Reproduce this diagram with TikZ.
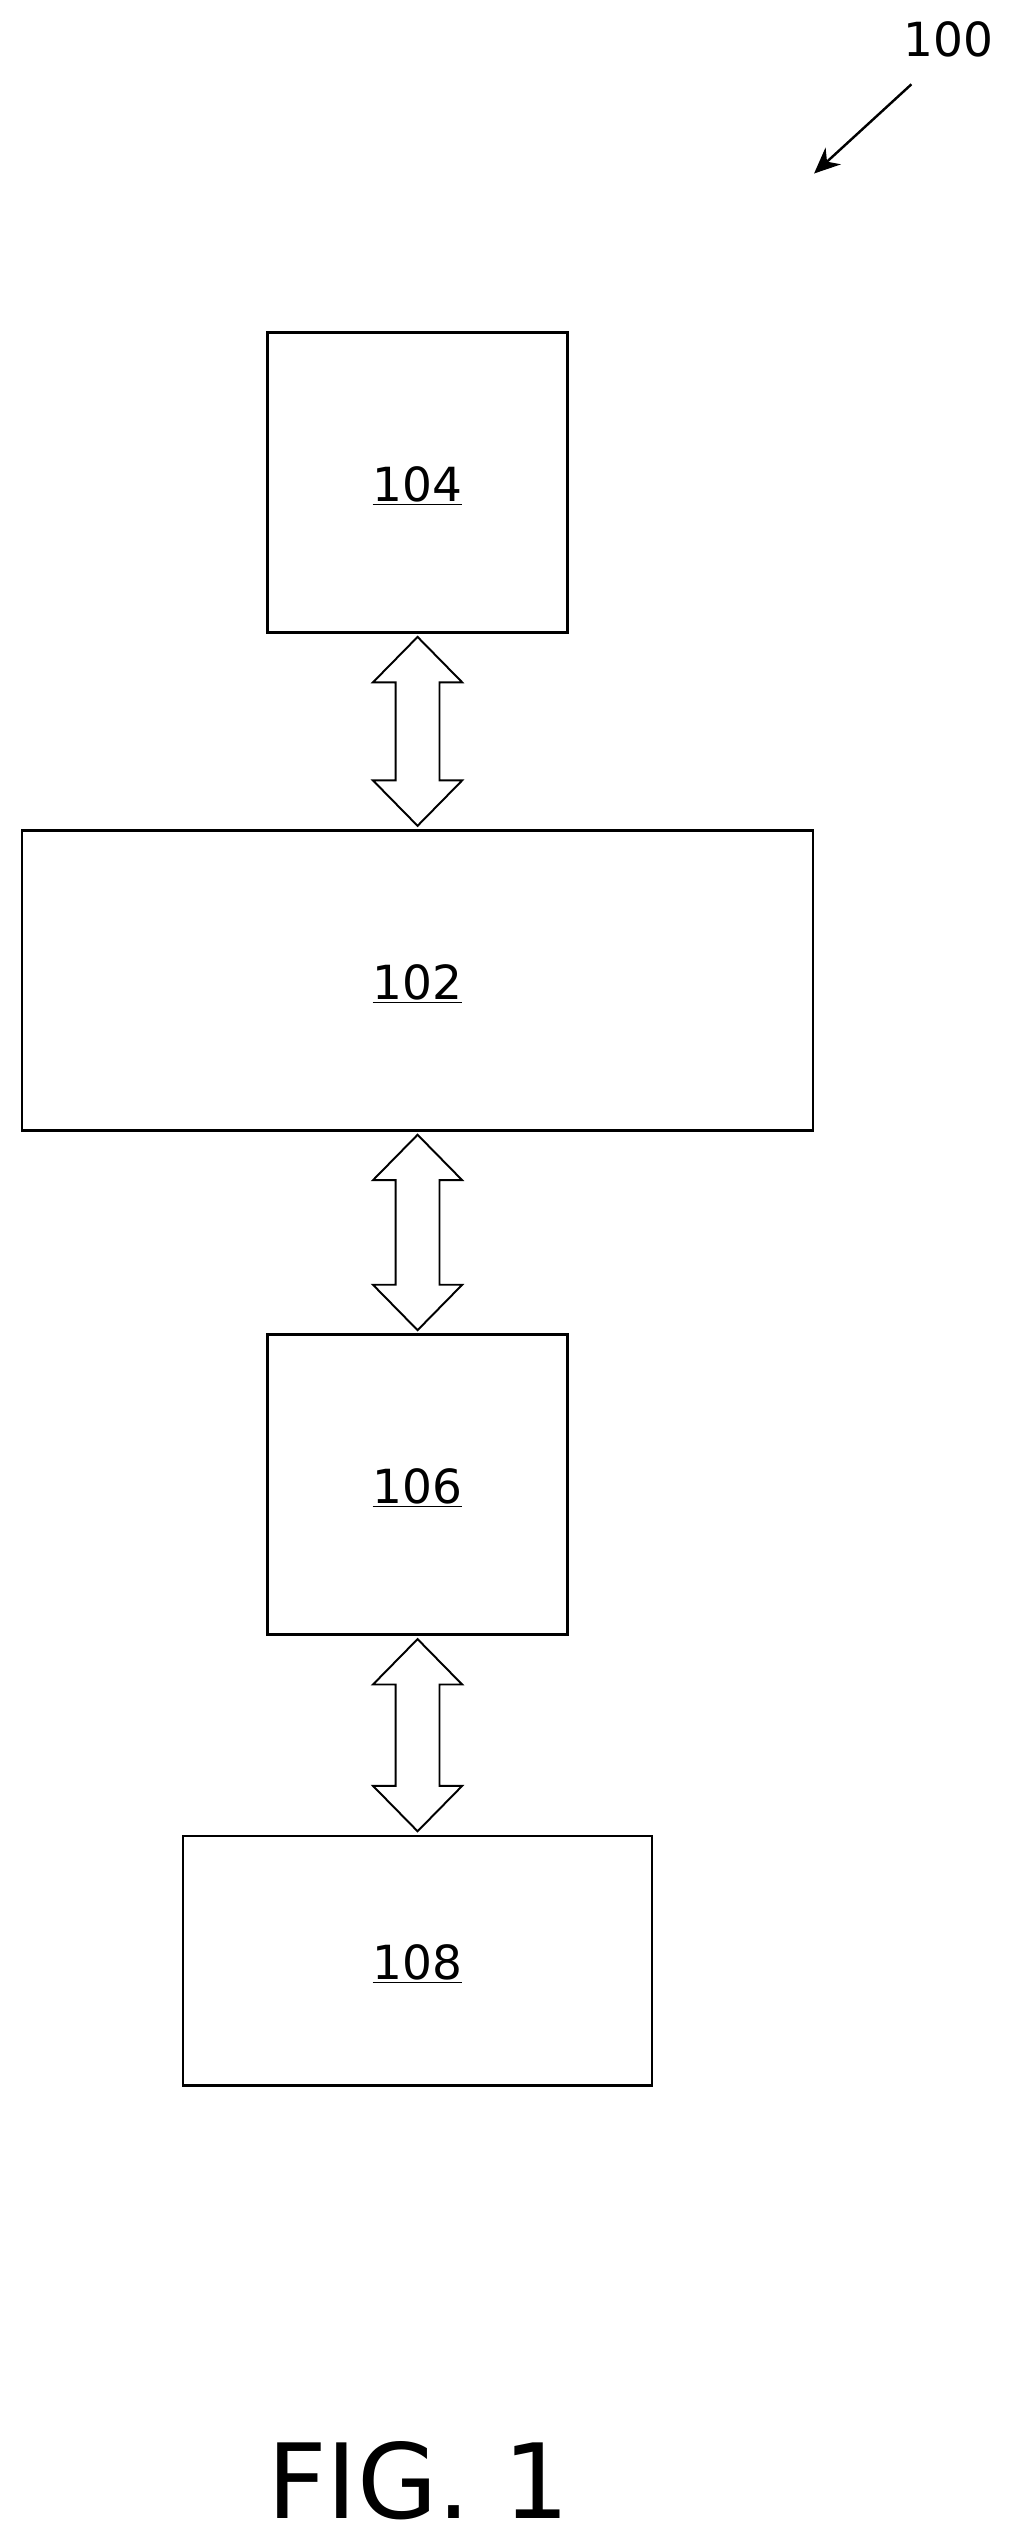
\documentclass[tikz,border=0pt]{standalone}
\usepackage{fontspec}
\setmainfont{DejaVu Sans}
\usetikzlibrary{calc,arrows.meta}
\tikzset{
  blk/.style={draw,line width=1.5pt,inner sep=0},
  lbl/.style={font=\fontsize{29}{33}\selectfont},
  dblarrow/.style={draw,line width=1.2pt,line join=miter}}
\newcommand{\dblarr}[2]{%
  \path[dblarrow] ($(#1)+(0,2)$) -- ($(#1)+(27.5,30)$) -- ($(#1)+(13.5,30)$) -- ($(#2)+(13.5,-30)$)
    -- ($(#2)+(27.5,-30)$) -- ($(#2)+(0,-2)$) -- ($(#2)+(-27.5,-30)$) -- ($(#2)+(-13.5,-30)$)
    -- ($(#1)+(-13.5,30)$) -- ($(#1)+(-27.5,30)$) -- cycle;}
\begin{document}
\begin{tikzpicture}[x=1pt,y=-1pt]
\useasboundingbox (0,0) rectangle (626,1570);
\node[blk,minimum width=185pt,minimum height=185pt] (b104) at (257.5,297.5) {};
\node[blk,minimum width=488pt,minimum height=185pt] (b102) at (257.5,604.5) {};
\node[blk,minimum width=185pt,minimum height=185pt] (b106) at (257.5,915.5) {};
\node[blk,minimum width=289pt,minimum height=154pt] (b108) at (257.5,1209) {};
\node[lbl] at ($(b104)+(0,2)$) {\underline{104}};
\node[lbl] at ($(b102)+(0,2)$) {\underline{102}};
\node[lbl] at ($(b106)+(0,2)$) {\underline{106}};
\node[lbl] at ($(b108)+(0,2)$) {\underline{108}};
\dblarr{b104.south}{b102.north}
\dblarr{b102.south}{b106.north}
\dblarr{b106.south}{b108.north}
\node[lbl] (l100) at (585,24) {100};
\coordinate (a1) at (562,52);
\coordinate (a2) at (502,107);
\draw[line width=1.5pt,-{Stealth[length=16pt,width=14pt]}] (a1) -- (a2);
\node[font=\fontsize{64}{70}\selectfont] (fig) at (258,1530) {FIG. 1};
\end{tikzpicture}
\end{document}
